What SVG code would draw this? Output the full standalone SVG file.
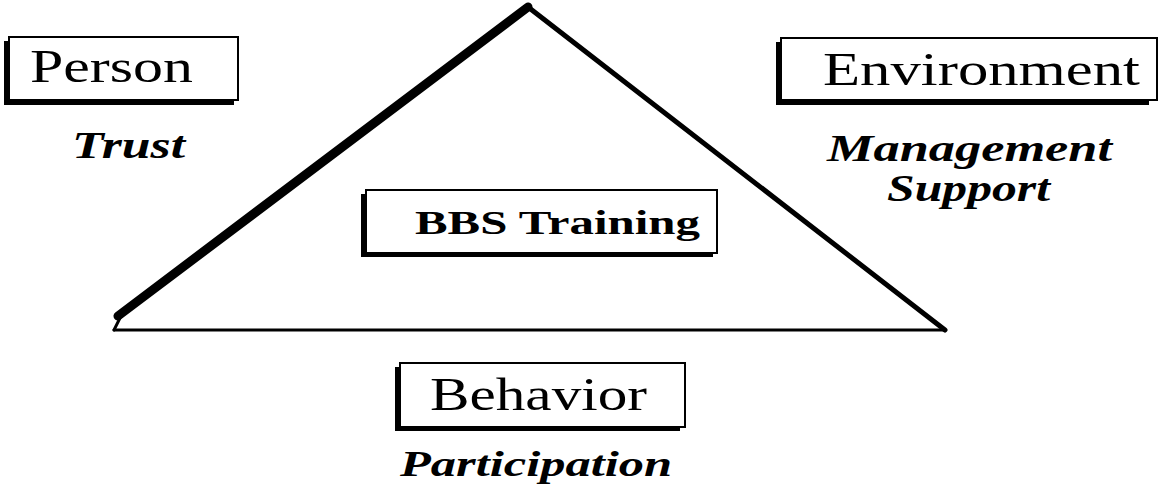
<svg xmlns="http://www.w3.org/2000/svg" width="1165" height="496" viewBox="0 0 1165 496">
<style>
.shadow{fill:#000}
.box{fill:#fff;stroke:#000;stroke-width:2}
.lbl{font-family:"Liberation Serif",serif;fill:#000}
.it{font-family:"Liberation Serif",serif;font-style:italic;font-weight:bold;fill:#000}
</style>
<rect width="1165" height="496" fill="#fff"/>
<g id="connectors" stroke="#000" fill="none" stroke-linecap="round">
<line x1="528" y1="7" x2="118" y2="316" stroke-width="9"/>
<line x1="528" y1="7" x2="945" y2="330" stroke-width="5"/>
<line x1="114" y1="330" x2="945" y2="330" stroke-width="3"/>
<line x1="121" y1="316" x2="114" y2="330" stroke-width="3"/>
</g>
<g id="person">
<rect class="shadow" x="4" y="41" width="230" height="64"/>
<rect class="box" x="9" y="37" width="229" height="63"/>
<text class="lbl" x="30" y="82" font-size="47" textLength="163" lengthAdjust="spacingAndGlyphs">Person</text>
</g>
<g id="environment">
<rect class="shadow" x="776" y="42" width="373" height="63"/>
<rect class="box" x="781" y="38" width="376" height="62"/>
<text class="lbl" x="823" y="85" font-size="47" textLength="317" lengthAdjust="spacingAndGlyphs">Environment</text>
</g>
<g id="bbs-training">
<rect class="shadow" x="361" y="194" width="352" height="63"/>
<rect class="box" x="366" y="190" width="351" height="63"/>
<text class="lbl" x="415" y="234" font-size="34" font-weight="bold" textLength="285" lengthAdjust="spacingAndGlyphs">BBS Training</text>
</g>
<g id="behavior">
<rect class="shadow" x="395" y="367" width="285" height="64"/>
<rect class="box" x="400" y="363" width="285" height="64"/>
<text class="lbl" x="430" y="410" font-size="47" textLength="217" lengthAdjust="spacingAndGlyphs">Behavior</text>
</g>
<g id="labels">
<text class="it" x="72" y="158" font-size="38" textLength="113" lengthAdjust="spacingAndGlyphs">Trust</text>
<text class="it" x="827" y="161" font-size="38" textLength="285" lengthAdjust="spacingAndGlyphs">Management</text>
<text class="it" x="887" y="201" font-size="38" textLength="163" lengthAdjust="spacingAndGlyphs">Support</text>
<text class="it" x="400" y="476" font-size="35" textLength="272" lengthAdjust="spacingAndGlyphs">Participation</text>
</g>
</svg>
